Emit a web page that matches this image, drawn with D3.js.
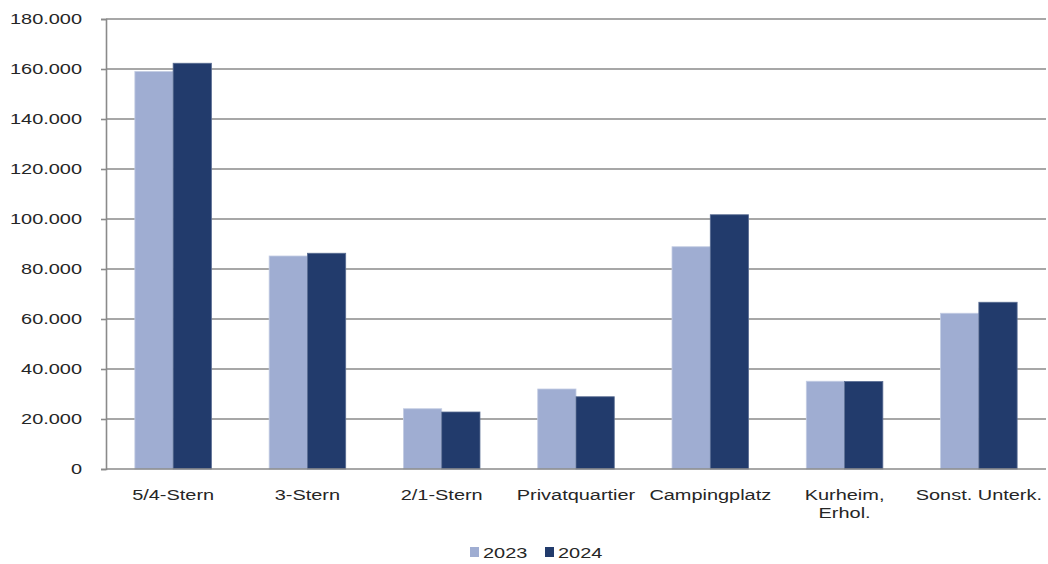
<!DOCTYPE html>
<html>
<head>
<meta charset="utf-8">
<script src="https://cdn.jsdelivr.net/npm/d3@7"></script>
<style>
  html, body { margin: 0; padding: 0; background: #ffffff; }
  svg { display: block; }
  text { font-family: "Liberation Sans", Arial, sans-serif; fill: #262626; }
</style>
</head>
<body>
<svg id="chart" width="1048" height="564"></svg>
<script>
const categories = ["5/4-Stern", "3-Stern", "2/1-Stern", "Privatquartier", "Campingplatz", "Kurheim, Erhol.", "Sonst. Unterk."];
const seriesNames = ["2023", "2024"];
const values2023 = [159000, 85200, 24100, 32000, 88900, 35100, 62300];
const values2024 = [162300, 86300, 22800, 28900, 101700, 35000, 66700];
const yTicks = [0, 20000, 40000, 60000, 80000, 100000, 120000, 140000, 160000, 180000];
const colors = ["#9fadd2", "#223b6c"];

const svg = d3.select("#chart");
const plotLeft = 106, plotRight = 1046, plotTop = 19, plotBottom = 469;
const stretch = 1.33;

const x0 = d3.scaleBand().domain(categories).range([plotLeft, plotRight]).paddingInner(0.43).paddingOuter(0.215);
const x1 = d3.scaleBand().domain(seriesNames).range([0, x0.bandwidth()]);
const y = d3.scaleLinear().domain([0, 180000]).range([plotBottom, plotTop]);

const fmt = v => v === 0 ? "0" : d3.format(",")(v).replace(/,/g, ".");

// gridlines
svg.append("g").selectAll("line").data(yTicks.filter(d => d > 0)).join("line")
  .attr("x1", plotLeft).attr("x2", plotRight)
  .attr("y1", d => y(d)).attr("y2", d => y(d))
  .attr("stroke", "#8a8a8a").attr("stroke-width", 1.6);

// bars
const data = categories.map((c, i) => ({ cat: c, vals: [values2023[i], values2024[i]] }));
const groups = svg.append("g").selectAll("g").data(data).join("g")
  .attr("transform", d => `translate(${x0(d.cat)},0)`);
groups.selectAll("rect").data(d => d.vals.map((v, j) => ({ key: seriesNames[j], v, j }))).join("rect")
  .attr("x", d => x1(d.key))
  .attr("width", x1.bandwidth())
  .attr("y", d => y(d.v))
  .attr("height", d => y(0) - y(d.v))
  .attr("fill", d => colors[d.j])
  .attr("stroke", d => d.j === 0 ? "#c3cce3" : "#5a6d93")
  .attr("stroke-width", 0.8);

// y axis
const yAxis = svg.append("g").attr("transform", `translate(${plotLeft},0)`)
  .call(d3.axisLeft(y).tickValues(yTicks).tickFormat(fmt).tickSize(5).tickPadding(18));
yAxis.select(".domain").attr("stroke", "#8a8a8a").attr("stroke-width", 1.6);
yAxis.selectAll(".tick line").attr("stroke", "#8a8a8a").attr("stroke-width", 1.6);
yAxis.selectAll(".tick text")
  .attr("font-size", 15)
  .attr("fill", "#262626")
  .attr("transform", `scale(${stretch},1)`)
  .attr("x", -24 / stretch);

// x axis baseline
svg.append("line").attr("x1", plotLeft).attr("x2", plotRight).attr("y1", y(0)).attr("y2", y(0))
  .attr("stroke", "#8a8a8a").attr("stroke-width", 1.6);

// x labels
const xl = svg.append("g").selectAll("g").data(categories).join("g")
  .attr("transform", d => `translate(${x0(d) + x0.bandwidth() / 2},${plotBottom + 31}) scale(${stretch},1)`);
xl.each(function (d) {
  const lines = d === "Kurheim, Erhol." ? ["Kurheim,", "Erhol."] : [d];
  const t = d3.select(this).append("text").attr("text-anchor", "middle").attr("font-size", 15);
  lines.forEach((ln, i) => t.append("tspan").attr("x", 0).attr("dy", i === 0 ? 0 : 18).text(ln));
});

// legend
const legend = svg.append("g").attr("transform", "translate(470,553)");
const legendX = [0, 75];
seriesNames.forEach((s, i) => {
  const g = legend.append("g").attr("transform", `translate(${legendX[i]},0)`);
  g.append("rect").attr("x", 0).attr("y", -6).attr("width", 9).attr("height", 10).attr("fill", colors[i]);
  g.append("text").attr("x", 13 / stretch).attr("y", 5).attr("font-size", 15)
    .attr("transform", `scale(${stretch},1)`).text(s);
});
</script>
</body>
</html>
